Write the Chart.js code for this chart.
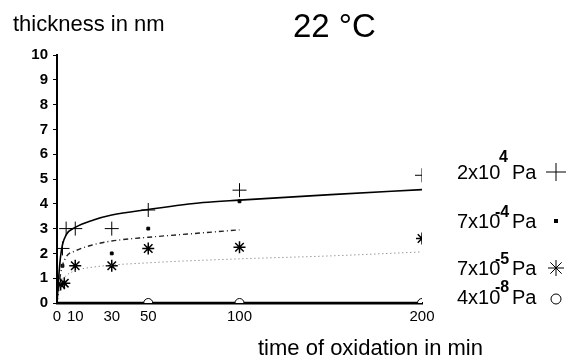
<!DOCTYPE html>
<html>
<head>
<meta charset="utf-8">
<script src="https://cdn.jsdelivr.net/npm/chart.js@4.4.1/dist/chart.umd.min.js"></script>
<style>
  html, body { margin: 0; padding: 0; background: #fff; }
  #wrap { position: relative; width: 571px; height: 360px; }
</style>
</head>
<body>
<div id="wrap"><canvas id="oxChart" width="571" height="360"></canvas></div>
<script>
const FONT = "'Liberation Sans', Arial, Helvetica, sans-serif";

// measured points, 2x10^4 Pa (+)
const crossTimes = [3, 5, 10, 30, 50, 100, 200];
const crossValues = [2.2, 3.0, 3.0, 3.0, 3.75, 4.55, 5.15];
// 7x10^-4 Pa (dot)
const dotTimes = [3, 30, 50, 100];
const dotValues = [1.5, 2.0, 3.0, 4.1];
// 7x10^-5 Pa (asterisk)
const starTimes = [2, 4, 10, 30, 50, 100, 200];
const starValues = [0.75, 0.8, 1.5, 1.5, 2.2, 2.25, 2.6];
// 4x10^-8 Pa (circle)
const circleTimes = [50, 100, 200];
const circleValues = [0, 0, 0];

// fitted curves
const fitSolidTimes = [0, 1, 2, 3, 5, 10, 20, 30, 50, 80, 100, 150, 200];
const fitSolidValues = [0, 1.1, 1.9, 2.35, 2.75, 3.05, 3.35, 3.55, 3.77, 4.05, 4.15, 4.37, 4.57];
const fitDashDotTimes = [0, 2, 5, 10, 20, 30, 50, 75, 100];
const fitDashDotValues = [0, 1.2, 1.85, 2.1, 2.35, 2.5, 2.65, 2.8, 2.95];
const fitDottedTimes = [0, 2, 5, 10, 20, 50, 100, 150, 200];
const fitDottedValues = [0, 0.8, 1.1, 1.3, 1.45, 1.62, 1.78, 1.9, 2.06];
const fitZeroTimes = [0, 200];
const fitZeroValues = [0, 0];

const xTickValues = [0, 10, 30, 50, 100, 200];

const legendRows = [
    { base: "2x10", exp: "4", symbol: "cross" },
    { base: "7x10", exp: "-4", symbol: "dot" },
    { base: "7x10", exp: "-5", symbol: "star" },
    { base: "4x10", exp: "-8", symbol: "circle" }
];

function toXY(xs, ys) {
    return xs.map((x, i) => ({ x: x, y: ys[i] }));
}

function curve(xs, ys, dash, width, color) {
    return {
        type: "line",
        data: toXY(xs, ys),
        borderColor: color,
        borderWidth: width,
        borderDash: dash,
        pointRadius: 0,
        cubicInterpolationMode: "monotone",
        fill: false
    };
}

function markers(xs, ys, style, radius, fill, width) {
    return {
        type: "line",
        data: toXY(xs, ys),
        showLine: false,
        pointStyle: style,
        pointRadius: radius,
        pointBorderColor: "#000",
        pointBackgroundColor: fill,
        pointBorderWidth: width
    };
}

// titles and hand-made legend on the right
const textPlugin = {
    id: "texts",
    afterDraw(chart) {
        const ctx = chart.ctx;
        ctx.save();
        ctx.fillStyle = "#000";
        ctx.textBaseline = "alphabetic";
        ctx.textAlign = "left";
        ctx.font = "22px " + FONT;
        ctx.fillText("thickness in nm", 13, 31);
        ctx.font = "33px " + FONT;
        ctx.fillText("22 °C", 293, 37);
        ctx.font = "22px " + FONT;
        ctx.fillText("time of oxidation in min", 258, 355);

        const baselines = [179, 228, 275, 304];
        const expBase = [162, 217, 264, 292];
        legendRows.forEach((row, i) => {
            ctx.font = "20px " + FONT;
            ctx.fillText(row.base, 457, baselines[i]);
            ctx.font = "bold 16px " + FONT;
            ctx.fillText(row.exp, row.exp.length > 1 ? 495 : 499, expBase[i]);
            ctx.font = "20px " + FONT;
            ctx.fillText("Pa", 512, baselines[i]);
            const cx = 556, cy = baselines[i] - 7;
            ctx.strokeStyle = "#000";
            ctx.lineWidth = 1;
            ctx.beginPath();
            if (row.symbol === "cross") {
                ctx.moveTo(cx - 10, cy); ctx.lineTo(cx + 10, cy);
                ctx.moveTo(cx, cy - 9); ctx.lineTo(cx, cy + 9);
                ctx.stroke();
            } else if (row.symbol === "dot") {
                ctx.fillRect(cx - 2, cy - 2, 4, 4);
            } else if (row.symbol === "star") {
                for (let a = 0; a < 4; a++) {
                    const ang = a * Math.PI / 4;
                    ctx.moveTo(cx - 8 * Math.cos(ang), cy - 8 * Math.sin(ang));
                    ctx.lineTo(cx + 8 * Math.cos(ang), cy + 8 * Math.sin(ang));
                }
                ctx.stroke();
            } else {
                ctx.arc(cx, cy + 2, 5, 0, Math.PI * 2);
                ctx.stroke();
            }
        });
        ctx.restore();
    }
};

const ctx = document.getElementById("oxChart").getContext("2d");
new Chart(ctx, {
    data: {
        datasets: [
            markers(circleTimes, circleValues, "circle", 4.5, "#fff", 1),
            curve(fitZeroTimes, fitZeroValues, [], 2.5, "#000"),
            curve(fitSolidTimes, fitSolidValues, [], 1.6, "#000"),
            curve(fitDashDotTimes, fitDashDotValues, [5, 3, 1, 3], 1.4, "#222"),
            curve(fitDottedTimes, fitDottedValues, [1, 3], 1, "#666"),
            markers(crossTimes, crossValues, "cross", 7, "#000", 1),
            markers(dotTimes, dotValues, "rect", 2, "#000", 1),
            markers(starTimes, starValues, "star", 6, "#000", 1.5)
        ]
    },
    options: {
        responsive: false,
        animation: false,
        layout: { padding: { left: 0, top: 55, right: 149, bottom: 0 } },
        plugins: {
            legend: { display: false },
            tooltip: { enabled: false }
        },
        scales: {
            x: {
                type: "linear",
                min: 0,
                max: 200,
                afterBuildTicks: scale => {
                    scale.ticks = xTickValues.map(v => ({ value: v }));
                },
                afterFit: scale => { scale.height = 57; },
                grid: { display: false, drawTicks: false },
                border: { display: true, color: "#000", width: 2.5 },
                ticks: {
                    autoSkip: false,
                    maxRotation: 0,
                    padding: 5,
                    color: "#000",
                    font: { family: FONT, size: 15 }
                }
            },
            y: {
                min: 0,
                max: 10,
                afterFit: scale => { scale.width = 57; },
                grid: { drawOnChartArea: false, drawTicks: true, tickLength: 4, color: "#000" },
                border: { display: true, color: "#000", width: 2 },
                ticks: {
                    stepSize: 1,
                    padding: 5,
                    color: "#000",
                    font: { family: FONT, size: 15, weight: "bold" }
                }
            }
        }
    },
    plugins: [textPlugin]
});
</script>
</body>
</html>
